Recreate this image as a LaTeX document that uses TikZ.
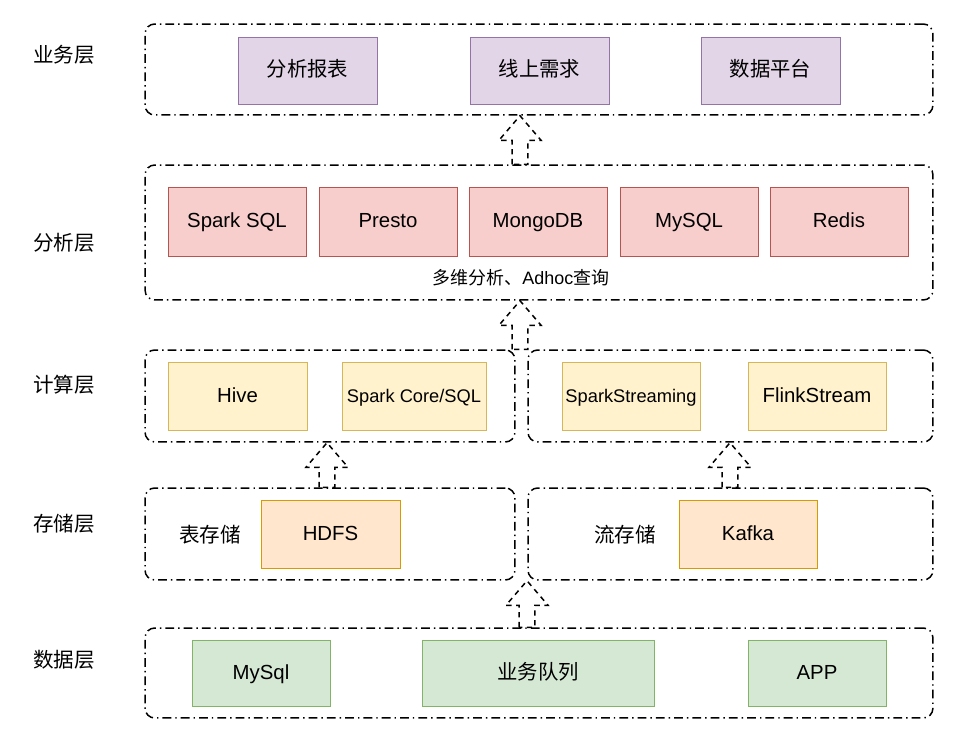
\documentclass[tikz,border=0pt]{standalone}
\usepackage{fontspec}
\setmainfont{Liberation Sans}
\newfontfamily\cjk{Noto Sans CJK SC}
\usetikzlibrary{calc}

\definecolor{bizFill}{HTML}{E1D5E7}
\definecolor{bizLine}{HTML}{9673A6}
\definecolor{anaFill}{HTML}{F8CECC}
\definecolor{anaLine}{HTML}{B85450}
\definecolor{calcFill}{HTML}{FFF2CC}
\definecolor{calcLine}{HTML}{D6B656}
\definecolor{storeFill}{HTML}{FFE6CC}
\definecolor{storeLine}{HTML}{D79B00}
\definecolor{dataFill}{HTML}{D5E8D4}
\definecolor{dataLine}{HTML}{82B366}

% hollow dashed up-arrow: #1 foot, #2 tip
\newcommand{\hollowup}[2]{%
  \draw[hollow] let \p1=(#1), \p2=(#2) in
    (\x1-4.5pt,\y1) -- (\x1-4.5pt,\y2-14pt) -- (\x1-12pt,\y2-14pt) -- (\x1,\y2)
    -- (\x1+12pt,\y2-14pt) -- (\x1+4.5pt,\y2-14pt) -- (\x1+4.5pt,\y1) -- cycle;}

\begin{document}
\begin{tikzpicture}[x=0.02cm, y=-0.02cm,
  tier/.style={draw, line width=0.85pt, rounded corners=5.5pt,
    dash pattern=on 5pt off 2.3pt on 0.8pt off 2.3pt, inner sep=0pt},
  box/.style={draw, line width=0.5pt, minimum width=2.76cm, minimum height=1.36cm,
    inner sep=0pt, text height=0.72em, text depth=0pt,
    font=\fontsize{11.6}{14}\selectfont},
  small/.style={font=\fontsize{10.4}{12}\selectfont},
  layer/.style={font=\fontsize{11.7}{14}\selectfont\cjk},
  hollow/.style={line width=0.85pt, dash pattern=on 3pt off 2.6pt}]

\useasboundingbox (0,0) rectangle (958,743);

% Layer labels
\node[layer] (bizLbl) at (64,55) {业务层};
\node[layer] (anaLbl) at (64,243) {分析层};
\node[layer] (calcLbl) at (64,385) {计算层};
\node[layer] (storeLbl) at (64,524) {存储层};
\node[layer] (dataLbl) at (64,660) {数据层};

% Tier frames
\node[tier, minimum width=15.76cm, minimum height=1.82cm] (bizTier) at (539,69.5) {};
\node[tier, minimum width=15.76cm, minimum height=2.7cm] (anaTier) at (539,232.5) {};
\node[tier, minimum width=7.4cm, minimum height=1.84cm] (calcL) at (330,396) {};
\node[tier, minimum width=8.1cm, minimum height=1.84cm] (calcR) at (730.5,396) {};
\node[tier, minimum width=7.4cm, minimum height=1.84cm] (storeL) at (330,534) {};
\node[tier, minimum width=8.1cm, minimum height=1.84cm] (storeR) at (730.5,534) {};
\node[tier, minimum width=15.76cm, minimum height=1.8cm] (dataTier) at (539,673) {};

% Business layer
\node[box, fill=bizFill, draw=bizLine, minimum width=2.78cm, minimum height=1.34cm, font=\fontsize{11.6}{14}\selectfont\cjk] (report) at (307.5,70.5) {分析报表};
\node[box, fill=bizFill, draw=bizLine, minimum width=2.78cm, minimum height=1.34cm, font=\fontsize{11.6}{14}\selectfont\cjk] (online) at (539.5,70.5) {线上需求};
\node[box, fill=bizFill, draw=bizLine, minimum width=2.78cm, minimum height=1.34cm, font=\fontsize{11.6}{14}\selectfont\cjk] (platform) at (770.5,70.5) {数据平台};

% Analysis layer
\node[box, fill=anaFill, draw=anaLine, minimum height=1.38cm] (sparkSql) at (237,221.5) {Spark SQL};
\node[box, fill=anaFill, draw=anaLine, minimum height=1.38cm] (presto) at (388,221.5) {Presto};
\node[box, fill=anaFill, draw=anaLine, minimum height=1.38cm] (mongo) at (538,221.5) {MongoDB};
\node[box, fill=anaFill, draw=anaLine, minimum height=1.38cm] (mysql) at (689,221.5) {MySQL};
\node[box, fill=anaFill, draw=anaLine, minimum height=1.38cm] (redis) at (839,221.5) {Redis};
\node[font=\fontsize{10.2}{12}\selectfont] (adhoc) at (521,278) {{\cjk 多维分析、}Adhoc{\cjk 查询}};

% Compute layer
\node[box, fill=calcFill, draw=calcLine, minimum width=2.78cm] (hive) at (237.5,396) {Hive};
\node[box, small, fill=calcFill, draw=calcLine, minimum width=2.88cm] (sparkCore) at (414,396) {Spark Core/SQL};
\node[box, small, fill=calcFill, draw=calcLine] (sparkStream) at (631,396) {SparkStreaming};
\node[box, fill=calcFill, draw=calcLine] (flink) at (817,396) {FlinkStream};

% Storage layer
\node[layer] (tableStore) at (210,535) {表存储};
\node[box, fill=storeFill, draw=storeLine, minimum width=2.78cm] (hdfs) at (330.5,534) {HDFS};
\node[layer] (streamStore) at (625,535) {流存储};
\node[box, fill=storeFill, draw=storeLine] (kafka) at (748,534) {Kafka};

% Data layer
\node[box, fill=dataFill, draw=dataLine, minimum height=1.32cm] (mysqlSrc) at (261,673) {MySql};
\node[box, fill=dataFill, draw=dataLine, minimum width=4.64cm, minimum height=1.32cm, font=\fontsize{11.6}{14}\selectfont\cjk] (queue) at (538,673) {业务队列};
\node[box, fill=dataFill, draw=dataLine, minimum height=1.32cm] (app) at (817,673) {APP};

% Flow arrows
\coordinate (midline) at (520,0);
\coordinate (leftline) at (327,0);
\coordinate (rightline) at (730,0);
\coordinate (baseline) at (527,0);
\hollowup{anaTier.north -| midline}{bizTier.south -| midline}
\hollowup{calcL.north -| midline}{anaTier.south -| midline}
\hollowup{storeL.north -| leftline}{calcL.south -| leftline}
\hollowup{storeR.north -| rightline}{calcR.south -| rightline}
\hollowup{dataTier.north -| baseline}{storeR.south -| baseline}

\end{tikzpicture}
\end{document}
